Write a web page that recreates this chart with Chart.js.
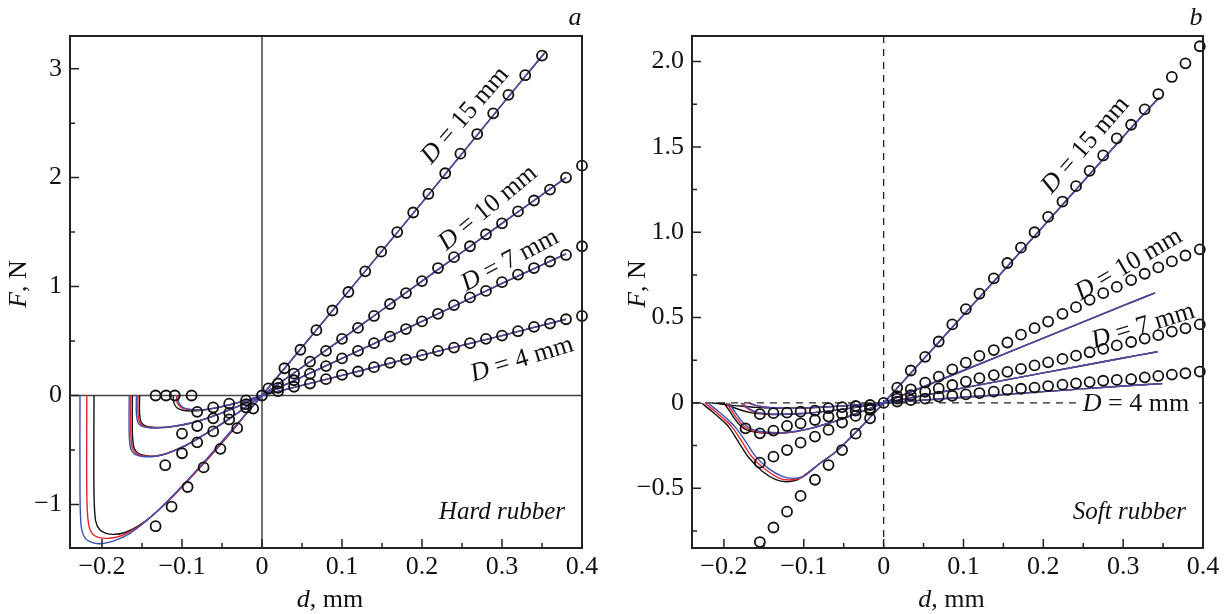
<!doctype html>
<html lang="en">
  <head>
    <meta charset="UTF-8" />
    <title>Pull-off force vs displacement</title>
    <script src="https://cdn.jsdelivr.net/npm/chart.js"></script>
    <style>
      body { margin: 0; background: #fff; }
      .panel { position: absolute; top: 0; width: 613px; height: 614px; }
    </style>
  </head>
  <body>
    <div class="panel" style="left: 0"><canvas id="chartA" width="613" height="614"></canvas></div>
    <div class="panel" style="left: 613px"><canvas id="chartB" width="613" height="614"></canvas></div>

    <script>
      const FONT = "'Liberation Serif', 'Times New Roman', serif";

      // shared x axis (d, mm)
      const xTicks = [-0.2, -0.1, 0, 0.1, 0.2, 0.3, 0.4];
      const xTickLabels = ["\u22120.2", "\u22120.1", "0", "0.1", "0.2", "0.3", "0.4"];
      const xMinor = [-0.15, -0.05, 0.05, 0.15, 0.25, 0.35];

      // ---- panel a: hard rubber ----
      const aYTicks = [-1, 0, 1, 2, 3];
      const aYTickLabels = ["\u22121", "0", "1", "2", "3"];
      const aYMinor = [-0.5, 0.5, 1.5, 2.5];

      // measured points [d, F]
      const aPts15 = [[-0.133,-1.2],[-0.113,-1.02],[-0.093,-0.84],[-0.073,-0.66],[-0.052,-0.49],[-0.031,-0.3],[-0.011,-0.12],[0,0],[0.008,0.065],[0.028,0.25],[0.048,0.42],[0.068,0.6],[0.088,0.78],[0.108,0.95],[0.129,1.14],[0.149,1.32],[0.169,1.5],[0.189,1.68],[0.208,1.85],[0.229,2.04],[0.248,2.22],[0.269,2.4],[0.289,2.59],[0.308,2.76],[0.329,2.94],[0.35,3.12]];
      const aPts10 = [[-0.133,0],[-0.121,-0.64],[-0.1,-0.53],[-0.081,-0.43],[-0.061,-0.33],[-0.041,-0.22],[-0.02,-0.11],[0.02,0.11],[0.04,0.2],[0.06,0.31],[0.08,0.41],[0.1,0.52],[0.12,0.62],[0.14,0.73],[0.16,0.84],[0.18,0.94],[0.2,1.05],[0.22,1.17],[0.24,1.27],[0.26,1.37],[0.28,1.48],[0.3,1.58],[0.32,1.69],[0.34,1.79],[0.36,1.89],[0.38,2.0],[0.4,2.11]];
      const aPts7 = [[-0.12,0],[-0.1,-0.35],[-0.081,-0.28],[-0.061,-0.21],[-0.041,-0.16],[-0.02,-0.08],[0.02,0.07],[0.04,0.14],[0.06,0.2],[0.08,0.27],[0.1,0.34],[0.12,0.41],[0.14,0.48],[0.16,0.54],[0.18,0.61],[0.2,0.68],[0.22,0.75],[0.24,0.83],[0.26,0.9],[0.28,0.96],[0.3,1.04],[0.32,1.11],[0.34,1.17],[0.36,1.23],[0.38,1.29],[0.4,1.37]];
      const aPts4 = [[-0.109,0],[-0.088,0],[-0.081,-0.15],[-0.061,-0.11],[-0.041,-0.075],[-0.02,-0.045],[0.02,0.04],[0.04,0.08],[0.06,0.11],[0.08,0.15],[0.1,0.19],[0.12,0.22],[0.14,0.26],[0.16,0.3],[0.18,0.33],[0.2,0.37],[0.22,0.41],[0.24,0.44],[0.26,0.48],[0.28,0.52],[0.3,0.55],[0.32,0.59],[0.34,0.63],[0.36,0.66],[0.38,0.7],[0.4,0.73]];

      // model curves, negative side (black / red / blue) and shared positive side
      const aFit15K = [[-0.21,0],[-0.21,-0.9],[-0.208,-1.15],[-0.203,-1.23],[-0.195,-1.265],[-0.185,-1.275],[-0.172,-1.26],[-0.155,-1.2],[-0.135,-1.09],[-0.115,-0.95],[-0.09,-0.76],[-0.065,-0.56],[-0.04,-0.35],[-0.02,-0.17],[0,0]];
      const aFit15R = [[-0.219,0],[-0.219,-0.9],[-0.217,-1.17],[-0.212,-1.27],[-0.203,-1.305],[-0.19,-1.31],[-0.175,-1.285],[-0.158,-1.22],[-0.14,-1.12],[-0.12,-0.99],[-0.095,-0.8],[-0.07,-0.6],[-0.045,-0.39],[-0.02,-0.17],[0,0]];
      const aFit15B = [[-0.2275,0],[-0.2275,-0.9],[-0.226,-1.2],[-0.221,-1.31],[-0.212,-1.35],[-0.2,-1.36],[-0.185,-1.335],[-0.165,-1.265],[-0.145,-1.155],[-0.125,-1.02],[-0.1,-0.83],[-0.075,-0.63],[-0.05,-0.42],[-0.025,-0.21],[0,0]];
      const aFit10K = [[-0.162,0],[-0.162,-0.35],[-0.16,-0.48],[-0.155,-0.53],[-0.145,-0.552],[-0.132,-0.555],[-0.118,-0.53],[-0.1,-0.475],[-0.08,-0.395],[-0.06,-0.305],[-0.04,-0.21],[-0.02,-0.105],[0,0]];
      const aFit10R = [[-0.164,0],[-0.164,-0.35],[-0.162,-0.485],[-0.157,-0.535],[-0.147,-0.556],[-0.134,-0.558],[-0.12,-0.535],[-0.1,-0.475],[-0.08,-0.395],[-0.06,-0.305],[-0.04,-0.21],[-0.02,-0.105],[0,0]];
      const aFit10B = [[-0.166,0],[-0.166,-0.35],[-0.164,-0.49],[-0.159,-0.54],[-0.149,-0.56],[-0.136,-0.56],[-0.121,-0.538],[-0.1,-0.475],[-0.08,-0.395],[-0.06,-0.305],[-0.04,-0.21],[-0.02,-0.105],[0,0]];
      const aFit7K = [[-0.153,0],[-0.153,-0.17],[-0.151,-0.245],[-0.146,-0.278],[-0.137,-0.292],[-0.125,-0.293],[-0.11,-0.283],[-0.09,-0.255],[-0.07,-0.212],[-0.05,-0.16],[-0.03,-0.1],[-0.015,-0.05],[0,0]];
      const aFit7R = [[-0.155,0],[-0.155,-0.17],[-0.153,-0.248],[-0.148,-0.281],[-0.139,-0.294],[-0.127,-0.295],[-0.112,-0.285],[-0.09,-0.255],[-0.07,-0.212],[-0.05,-0.16],[-0.03,-0.1],[-0.015,-0.05],[0,0]];
      const aFit7B = [[-0.157,0],[-0.157,-0.17],[-0.155,-0.25],[-0.15,-0.283],[-0.141,-0.296],[-0.129,-0.297],[-0.114,-0.287],[-0.09,-0.255],[-0.07,-0.212],[-0.05,-0.16],[-0.03,-0.1],[-0.015,-0.05],[0,0]];
      const aFit4K = [[-0.111,0],[-0.11,-0.07],[-0.106,-0.115],[-0.099,-0.135],[-0.09,-0.142],[-0.078,-0.138],[-0.06,-0.118],[-0.04,-0.085],[-0.02,-0.045],[0,0]];
      const aFit4R = [[-0.107,0],[-0.106,-0.065],[-0.102,-0.105],[-0.095,-0.125],[-0.085,-0.133],[-0.074,-0.131],[-0.06,-0.116],[-0.04,-0.085],[-0.02,-0.045],[0,0]];
      const aFit4B = [[-0.105,0],[-0.104,-0.065],[-0.1,-0.103],[-0.093,-0.123],[-0.083,-0.131],[-0.072,-0.13],[-0.06,-0.116],[-0.04,-0.085],[-0.02,-0.045],[0,0]];
      const aFitPos15 = [[0.1,0.885],[0.2,1.77],[0.3,2.67],[0.355,3.16]];
      const aFitPos10 = [[0.1,0.52],[0.2,1.05],[0.3,1.58],[0.38,2.0]];
      const aFitPos7 = [[0.1,0.34],[0.2,0.68],[0.3,1.03],[0.38,1.3]];
      const aFitPos4 = [[0.1,0.185],[0.2,0.37],[0.3,0.55],[0.38,0.7]];

      const aLabels = ["15", "10", "7", "4"];
      const aLabelPos = [[0.254, 2.57], [0.2825, 1.72], [0.31, 1.24], [0.325, 0.33]];
      const aLabelAngle = [-49, -39.5, -28, -17];

      // ---- panel b: soft rubber ----
      const bYTicks = [-0.5, 0, 0.5, 1, 1.5, 2];
      const bYTickLabels = ["\u22120.5", "0", "0.5", "1.0", "1.5", "2.0"];
      const bYMinor = [-0.75, -0.25, 0.25, 0.75, 1.25, 1.75];

      const bPts15 = [[-0.155,-0.815],[-0.138,-0.73],[-0.121,-0.637],[-0.104,-0.545],[-0.086,-0.45],[-0.069,-0.364],[-0.052,-0.276],[-0.035,-0.18],[-0.017,-0.09],[0,0],[0.017,0.09],[0.034,0.19],[0.052,0.27],[0.069,0.36],[0.086,0.46],[0.103,0.55],[0.12,0.64],[0.138,0.73],[0.155,0.82],[0.172,0.91],[0.189,1.0],[0.206,1.09],[0.224,1.18],[0.241,1.27],[0.258,1.36],[0.275,1.45],[0.292,1.55],[0.31,1.63],[0.327,1.72],[0.344,1.81],[0.361,1.91],[0.378,1.99],[0.396,2.09]];
      const bPts10 = [[-0.155,-0.35],[-0.138,-0.315],[-0.121,-0.276],[-0.104,-0.233],[-0.086,-0.197],[-0.069,-0.158],[-0.052,-0.115],[-0.035,-0.076],[-0.017,-0.04],[0.017,0.04],[0.034,0.08],[0.052,0.119],[0.069,0.154],[0.086,0.197],[0.103,0.236],[0.12,0.276],[0.138,0.31],[0.155,0.354],[0.172,0.4],[0.189,0.438],[0.206,0.477],[0.224,0.522],[0.241,0.561],[0.258,0.604],[0.275,0.643],[0.292,0.68],[0.31,0.72],[0.327,0.757],[0.344,0.794],[0.361,0.829],[0.378,0.864],[0.396,0.9]];
      const bPts7 = [[-0.173,-0.149],[-0.155,-0.178],[-0.138,-0.162],[-0.121,-0.135],[-0.104,-0.12],[-0.086,-0.1],[-0.069,-0.08],[-0.052,-0.065],[-0.035,-0.045],[-0.017,-0.031],[0.017,0.025],[0.034,0.045],[0.052,0.065],[0.069,0.085],[0.086,0.105],[0.103,0.125],[0.12,0.145],[0.138,0.163],[0.155,0.182],[0.172,0.2],[0.189,0.22],[0.206,0.238],[0.224,0.258],[0.241,0.277],[0.258,0.297],[0.275,0.317],[0.292,0.337],[0.31,0.357],[0.327,0.377],[0.344,0.397],[0.361,0.418],[0.378,0.437],[0.396,0.46]];
      const bPts4 = [[-0.155,-0.066],[-0.138,-0.06],[-0.121,-0.057],[-0.104,-0.051],[-0.086,-0.045],[-0.069,-0.031],[-0.052,-0.025],[-0.035,-0.018],[-0.017,-0.012],[0.017,0.008],[0.034,0.016],[0.052,0.025],[0.069,0.037],[0.086,0.042],[0.103,0.05],[0.12,0.058],[0.138,0.066],[0.155,0.076],[0.172,0.083],[0.189,0.09],[0.206,0.099],[0.224,0.107],[0.241,0.115],[0.258,0.122],[0.275,0.13],[0.292,0.135],[0.31,0.139],[0.327,0.15],[0.344,0.158],[0.361,0.166],[0.378,0.174],[0.396,0.184]];

      const bFit15K = [[-0.228,0],[-0.215,-0.05],[-0.205,-0.09],[-0.194,-0.14],[-0.181,-0.235],[-0.169,-0.32],[-0.152,-0.4],[-0.135,-0.45],[-0.122,-0.462],[-0.108,-0.45],[-0.098,-0.42],[-0.08,-0.355],[-0.061,-0.29],[-0.045,-0.22],[-0.028,-0.14],[-0.014,-0.07],[0,0]];
      const bFit15R = [[-0.224,0],[-0.211,-0.05],[-0.201,-0.09],[-0.19,-0.14],[-0.177,-0.23],[-0.165,-0.315],[-0.148,-0.39],[-0.131,-0.44],[-0.118,-0.452],[-0.104,-0.44],[-0.096,-0.415],[-0.08,-0.355],[-0.061,-0.29],[-0.045,-0.22],[-0.028,-0.14],[-0.014,-0.07],[0,0]];
      const bFit15B = [[-0.22,0],[-0.207,-0.05],[-0.197,-0.09],[-0.186,-0.14],[-0.173,-0.225],[-0.161,-0.31],[-0.144,-0.385],[-0.127,-0.43],[-0.114,-0.442],[-0.1,-0.43],[-0.094,-0.41],[-0.08,-0.355],[-0.061,-0.29],[-0.045,-0.22],[-0.028,-0.14],[-0.014,-0.07],[0,0]];
      const bFit10K = [[-0.2,0],[-0.194,-0.04],[-0.187,-0.09],[-0.18,-0.13],[-0.172,-0.158],[-0.16,-0.172],[-0.145,-0.178],[-0.13,-0.178],[-0.11,-0.168],[-0.09,-0.148],[-0.07,-0.12],[-0.05,-0.09],[-0.03,-0.055],[-0.015,-0.028],[0,0]];
      const bFit10R = [[-0.197,0],[-0.191,-0.04],[-0.184,-0.09],[-0.177,-0.128],[-0.169,-0.155],[-0.157,-0.17],[-0.142,-0.176],[-0.127,-0.176],[-0.11,-0.167],[-0.09,-0.148],[-0.07,-0.12],[-0.05,-0.09],[-0.03,-0.055],[-0.015,-0.028],[0,0]];
      const bFit10B = [[-0.194,0],[-0.188,-0.04],[-0.181,-0.088],[-0.174,-0.125],[-0.166,-0.152],[-0.154,-0.167],[-0.139,-0.173],[-0.124,-0.173],[-0.11,-0.166],[-0.09,-0.148],[-0.07,-0.12],[-0.05,-0.09],[-0.03,-0.055],[-0.015,-0.028],[0,0]];
      const bFit7K = [[-0.21,0],[-0.195,-0.015],[-0.18,-0.04],[-0.165,-0.058],[-0.148,-0.066],[-0.13,-0.068],[-0.11,-0.065],[-0.09,-0.058],[-0.07,-0.048],[-0.05,-0.036],[-0.03,-0.022],[-0.015,-0.011],[0,0]];
      const bFit7R = [[-0.179,0],[-0.172,-0.028],[-0.164,-0.05],[-0.152,-0.062],[-0.135,-0.067],[-0.12,-0.066],[-0.1,-0.061],[-0.09,-0.058],[-0.07,-0.048],[-0.05,-0.036],[-0.03,-0.022],[-0.015,-0.011],[0,0]];
      const bFit7B = [[-0.177,0],[-0.17,-0.028],[-0.162,-0.049],[-0.15,-0.061],[-0.133,-0.066],[-0.12,-0.066],[-0.1,-0.061],[-0.09,-0.058],[-0.07,-0.048],[-0.05,-0.036],[-0.03,-0.022],[-0.015,-0.011],[0,0]];
      const bFit4K = [[-0.215,0],[-0.2,-0.008],[-0.18,-0.018],[-0.16,-0.026],[-0.14,-0.03],[-0.12,-0.031],[-0.1,-0.029],[-0.08,-0.025],[-0.06,-0.02],[-0.04,-0.014],[-0.02,-0.007],[0,0]];
      const bFit4R = [[-0.17,0],[-0.16,-0.016],[-0.145,-0.026],[-0.125,-0.03],[-0.1,-0.029],[-0.08,-0.025],[-0.06,-0.02],[-0.04,-0.014],[-0.02,-0.007],[0,0]];
      const bFit4B = [[-0.168,0],[-0.158,-0.016],[-0.143,-0.026],[-0.123,-0.03],[-0.1,-0.029],[-0.08,-0.025],[-0.06,-0.02],[-0.04,-0.014],[-0.02,-0.007],[0,0]];
      const bFitPos15 = [[0.1,0.515],[0.2,1.035],[0.3,1.56],[0.345,1.79]];
      const bFitPos10 = [[0.1,0.19],[0.2,0.38],[0.3,0.57],[0.34,0.645]];
      const bFitPos7 = [[0.1,0.088],[0.2,0.176],[0.3,0.263],[0.343,0.3]];
      const bFitPos4 = [[0.1,0.033],[0.2,0.066],[0.3,0.099],[0.349,0.113]];

      const bLabels = ["15", "10", "7", "4"];
      const bLabelPos = [[0.253, 1.51], [0.307, 0.81], [0.325, 0.45], [0.316, -0.005]];
      const bLabelAngle = [-49, -30.5, -17, 0];

      const BLACK = "#111111";
      const RED = "#e3262d";
      const BLUE = "#3b4fb5";
      const TEXT = "#111111";

      function xy(arr) {
        return arr.map(([x, y]) => ({ x: x, y: y }));
      }

      function pointSet(arr) {
        return {
          data: xy(arr),
          showLine: false,
          pointRadius: 5,
          pointBorderWidth: 1.8,
          pointBorderColor: BLACK,
          pointBackgroundColor: "rgba(0,0,0,0)",
          clip: 10,
          order: 0,
        };
      }

      function fitSet(neg, pos, color, order) {
        return {
          data: xy(neg.concat(pos)),
          showLine: true,
          borderColor: color,
          borderWidth: 1.4,
          pointRadius: 0,
          tension: 0.3,
          fill: false,
          order: order,
        };
      }

      function drawMixed(ctx, parts, x, y, angle, size, align) {
        ctx.save();
        ctx.translate(x, y);
        ctx.rotate((angle * Math.PI) / 180);
        let total = 0;
        parts.forEach((p) => {
          ctx.font = (p[1] ? "italic " : "") + size + "px " + FONT;
          p.w = ctx.measureText(p[0]).width;
          total += p.w;
        });
        let cx = align === "center" ? -total / 2 : align === "right" ? -total : 0;
        ctx.textBaseline = "middle";
        ctx.textAlign = "left";
        ctx.fillStyle = TEXT;
        parts.forEach((p) => {
          ctx.font = (p[1] ? "italic " : "") + size + "px " + FONT;
          ctx.fillText(p[0], cx, 0);
          cx += p.w;
        });
        ctx.restore();
        return total;
      }

      function makePanel(id, cfg) {
        const decor = {
          id: "decor" + id,
          beforeDatasetsDraw(chart) {
            const ctx = chart.ctx;
            const a = chart.chartArea;
            const sx = chart.scales.x;
            const sy = chart.scales.y;
            const x0 = sx.getPixelForValue(0);
            const y0 = sy.getPixelForValue(0);
            ctx.save();
            ctx.strokeStyle = cfg.dashed ? "#222" : "#444";
            ctx.lineWidth = cfg.dashed ? 1.3 : 1.5;
            if (cfg.dashed) ctx.setLineDash([7, 6]);
            ctx.beginPath();
            ctx.moveTo(x0, a.top);
            ctx.lineTo(x0, a.bottom);
            ctx.moveTo(a.left, y0);
            ctx.lineTo(a.right, y0);
            ctx.stroke();
            ctx.restore();
          },
          afterDraw(chart) {
            const ctx = chart.ctx;
            const a = chart.chartArea;
            const sx = chart.scales.x;
            const sy = chart.scales.y;
            ctx.save();
            ctx.strokeStyle = "#222";
            ctx.lineWidth = 2;
            ctx.strokeRect(a.left, a.top, a.right - a.left, a.bottom - a.top);
            ctx.lineWidth = 1.5;
            ctx.beginPath();
            xTicks.forEach((v) => {
              const p = sx.getPixelForValue(v);
              ctx.moveTo(p, a.bottom);
              ctx.lineTo(p, a.bottom - 9);
            });
            xMinor.forEach((v) => {
              const p = sx.getPixelForValue(v);
              ctx.moveTo(p, a.bottom);
              ctx.lineTo(p, a.bottom - 5);
            });
            cfg.yTicks.forEach((v) => {
              const p = sy.getPixelForValue(v);
              ctx.moveTo(a.left, p);
              ctx.lineTo(a.left + 9, p);
            });
            cfg.yMinor.forEach((v) => {
              const p = sy.getPixelForValue(v);
              ctx.moveTo(a.left, p);
              ctx.lineTo(a.left + 5, p);
            });
            ctx.stroke();
            ctx.restore();

            // axis titles
            drawMixed(ctx, [["F", true], [", N", false]], cfg.yTitleX, (a.top + a.bottom) / 2 - 8, -90, 26, "center");
            drawMixed(ctx, [["d", true], [", mm", false]], (a.left + a.right) / 2 + 4, 600, 0, 26, "center");
            // panel letter and material
            drawMixed(ctx, [[cfg.letter, true]], a.right - 7, 18, 0, 26, "center");
            drawMixed(ctx, [[cfg.material, true]], a.right - 17, a.bottom - 36, 0, 25, "right");

            // curve annotations
            cfg.labels.forEach((t, i) => {
              const px = sx.getPixelForValue(cfg.labelPos[i][0]);
              const py = sy.getPixelForValue(cfg.labelPos[i][1]);
              const parts = [["D", true], [" = " + t + " mm", false]];
              if (cfg.labelAngle[i] === 0) {
                ctx.save();
                ctx.font = "26px " + FONT;
                const w = ctx.measureText("D = " + t + " mm").width + 10;
                ctx.fillStyle = "#fff";
                ctx.fillRect(px - w / 2, py - 14, w, 28);
                ctx.restore();
              }
              drawMixed(ctx, parts, px, py, cfg.labelAngle[i], 26, "center");
            });
          },
        };

        return new Chart(document.getElementById(id), {
          type: "scatter",
          data: { datasets: cfg.datasets },
          options: {
            responsive: false,
            animation: false,
            events: [],
            layout: { padding: { left: 0, right: cfg.padRight, top: 36, bottom: 0 } },
            plugins: { legend: { display: false }, tooltip: { enabled: false } },
            scales: {
              x: {
                type: "linear",
                min: -0.24,
                max: 0.4,
                afterBuildTicks: (s) => {
                  s.ticks = xTicks.map((v) => ({ value: v }));
                },
                afterFit: (s) => {
                  s.height = 66;
                },
                ticks: {
                  callback: (v, i) => xTickLabels[i],
                  font: { family: FONT, size: 26 },
                  color: TEXT,
                  padding: 4,
                  maxRotation: 0,
                  autoSkip: false,
                },
                grid: { display: false, drawTicks: false },
                border: { display: false },
              },
              y: {
                type: "linear",
                min: cfg.yMin,
                max: cfg.yMax,
                afterBuildTicks: (s) => {
                  s.ticks = cfg.yTicks.map((v) => ({ value: v }));
                },
                afterFit: (s) => {
                  s.width = cfg.yWidth;
                },
                ticks: {
                  callback: (v, i) => cfg.yTickLabels[i],
                  font: { family: FONT, size: 26 },
                  color: TEXT,
                  padding: 8,
                  autoSkip: false,
                },
                grid: { display: false, drawTicks: false },
                border: { display: false },
              },
            },
          },
          plugins: [decor],
        });
      }

      makePanel("chartA", {
        yMin: -1.4,
        yMax: 3.3,
        yTicks: aYTicks,
        yTickLabels: aYTickLabels,
        yMinor: aYMinor,
        yWidth: 70,
        padRight: 31,
        yTitleX: 19,
        dashed: false,
        letter: "a",
        material: "Hard rubber",
        labels: aLabels,
        labelPos: aLabelPos,
        labelAngle: aLabelAngle,
        datasets: [
          pointSet(aPts15), pointSet(aPts10), pointSet(aPts7), pointSet(aPts4),
          fitSet(aFit15B, aFitPos15, BLUE, 1), fitSet(aFit10B, aFitPos10, BLUE, 1),
          fitSet(aFit7B, aFitPos7, BLUE, 1), fitSet(aFit4B, aFitPos4, BLUE, 1),
          fitSet(aFit15R, aFitPos15, RED, 2), fitSet(aFit10R, aFitPos10, RED, 2),
          fitSet(aFit7R, aFitPos7, RED, 2), fitSet(aFit4R, aFitPos4, RED, 2),
          fitSet(aFit15K, aFitPos15, BLACK, 3), fitSet(aFit10K, aFitPos10, BLACK, 3),
          fitSet(aFit7K, aFitPos7, BLACK, 3), fitSet(aFit4K, aFitPos4, BLACK, 3),
        ],
      });

      makePanel("chartB", {
        yMin: -0.85,
        yMax: 2.15,
        yTicks: bYTicks,
        yTickLabels: bYTickLabels,
        yMinor: bYMinor,
        yWidth: 79,
        padRight: 23,
        yTitleX: 25,
        dashed: true,
        letter: "b",
        material: "Soft rubber",
        labels: bLabels,
        labelPos: bLabelPos,
        labelAngle: bLabelAngle,
        datasets: [
          pointSet(bPts15), pointSet(bPts10), pointSet(bPts7), pointSet(bPts4),
          fitSet(bFit15B, bFitPos15, BLUE, 1), fitSet(bFit10B, bFitPos10, BLUE, 1),
          fitSet(bFit7B, bFitPos7, BLUE, 1), fitSet(bFit4B, bFitPos4, BLUE, 1),
          fitSet(bFit15R, bFitPos15, RED, 2), fitSet(bFit10R, bFitPos10, RED, 2),
          fitSet(bFit7R, bFitPos7, RED, 2), fitSet(bFit4R, bFitPos4, RED, 2),
          fitSet(bFit15K, bFitPos15, BLACK, 3), fitSet(bFit10K, bFitPos10, BLACK, 3),
          fitSet(bFit7K, bFitPos7, BLACK, 3), fitSet(bFit4K, bFitPos4, BLACK, 3),
        ],
      });
    </script>
  </body>
</html>
